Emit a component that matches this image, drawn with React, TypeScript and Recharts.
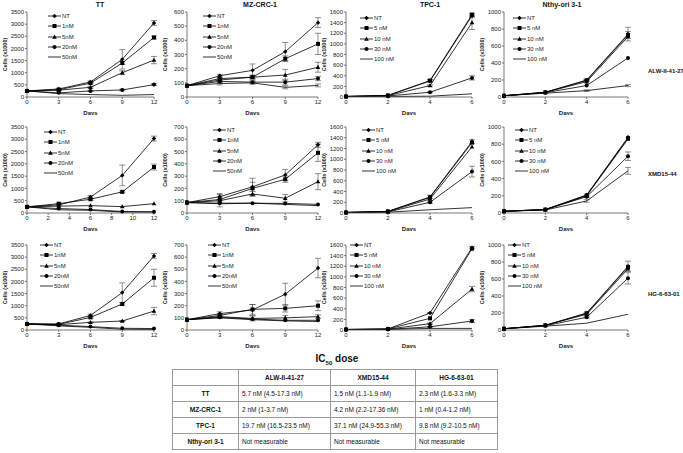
import React from 'react';
import { LineChart, Line, XAxis, YAxis, ErrorBar } from 'recharts';

// x values (days)
const DAYS_LONG = [0, 3, 6, 9, 12];
const DAYS_SHORT = [0, 2, 4, 6];

const DOSES_A = ['NT', '1nM', '5nM', '20nM', '50nM'];
const DOSES_B = ['NT', '5 nM', '10 nM', '30 nM', '100 nM'];

const CELL_LINES = ['TT', 'MZ-CRC-1', 'TPC-1', 'Nthy-ori 3-1'];
const INHIBITORS = ['ALW-II-41-27', 'XMD15-44', 'HG-6-63-01'];

// ALW-II-41-27
const ttAlw = [
  [250, 330, 620, 1550, 3050],
  [250, 300, 570, 1400, 2450],
  [250, 280, 400, 1000, 1520],
  [250, 170, 250, 290, 510],
  [250, 140, 100, 70, 100],
];
const ttAlwErr = [[0, 30, 40, 400, 100], [0, 20, 30, 60, 60], [0, 20, 30, 80, 150], [0, 0, 20, 30, 40], null];
const mzAlw = [
  [80, 150, 188, 320, 525],
  [80, 130, 140, 270, 375],
  [80, 120, 140, 155, 210],
  [80, 110, 105, 105, 130],
  [80, 95, 100, 68, 82],
];
const mzAlwErr = [[0, 10, 45, 65, 35], [0, 10, 10, 20, 75], [0, 10, 15, 40, 35], [0, 10, 10, 20, 15], [0, 10, 10, 10, 10]];
const tpcAlw = [
  [10, 30, 300, 1530],
  [10, 30, 310, 1550],
  [10, 25, 215, 1400],
  [10, 20, 90, 360],
  [10, 10, 15, 60],
];
const tpcAlwErr = [[0, 0, 20, 30], [0, 0, 20, 30], [0, 0, 15, 130], [0, 0, 10, 40], null];
const nthyAlw = [
  [15, 55, 200, 740],
  [15, 55, 195, 730],
  [15, 55, 180, 710],
  [15, 50, 135, 460],
  [15, 45, 75, 135],
];
const nthyAlwErr = [[0, 0, 10, 80], [0, 0, 10, 40], null, null, [0, 0, 10, 10]];

// XMD15-44
const ttXmd = [
  [250, 330, 650, 1530, 3030],
  [250, 380, 560, 860, 1870],
  [250, 280, 300, 260, 380],
  [250, 180, 140, 60, 50],
  [250, 130, 110, 40, 40],
];
const ttXmdErr = [[0, 40, 60, 420, 100], [0, 20, 40, 40, 120], null, null, null];
const mzXmd = [
  [85, 133, 213, 310, 555],
  [85, 110, 200, 275, 490],
  [85, 100, 155, 120, 255],
  [85, 80, 80, 78, 70],
  [85, 75, 80, 70, 60],
];
const mzXmdErr = [[0, 25, 70, 45, 20], [0, 20, 50, 25, 70], [0, 50, 20, 30, 65], null, null];
const tpcXmd = [
  [10, 30, 300, 1330],
  [10, 30, 290, 1310],
  [10, 25, 260, 1230],
  [10, 20, 200, 770],
  [10, 15, 60, 100],
];
const tpcXmdErr = [[0, 0, 30, 40], null, null, [0, 0, 20, 100], null];
const nthyXmd = [
  [20, 40, 210, 880],
  [20, 40, 205, 870],
  [20, 40, 200, 860],
  [20, 38, 190, 660],
  [20, 35, 140, 490],
];
const nthyXmdErr = [null, null, null, [0, 0, 10, 50], [0, 0, 15, 40]];

// HG-6-63-01
const ttHg = [
  [250, 250, 600, 1540, 3050],
  [250, 230, 520, 1070, 2150],
  [250, 220, 315, 370, 780],
  [250, 200, 140, 70, 60],
  [250, 170, 110, 30, 20],
];
const ttHgErr = [[0, 20, 50, 400, 100], [0, 20, 40, 50, 350], [0, 0, 20, 20, 150], null, null];
const mzHg = [
  [85, 135, 165, 295, 510],
  [85, 120, 170, 178, 200],
  [85, 110, 95, 100, 110],
  [85, 105, 90, 80, 80],
  [85, 100, 85, 75, 70],
];
const mzHgErr = [[0, 15, 45, 90, 80], [0, 10, 40, 30, 40], [0, 15, 20, 20, 15], null, null];
const tpcHg = [
  [10, 20, 320, 1550],
  [10, 20, 220, 1530],
  [10, 15, 120, 770],
  [10, 12, 60, 170],
  [10, 10, 30, 30],
];
const tpcHgErr = [[0, 0, 10, 20], null, [0, 0, 10, 50], [0, 0, 5, 30], null];
const nthyHg = [
  [15, 55, 200, 750],
  [15, 55, 195, 740],
  [15, 55, 185, 720],
  [15, 50, 150, 610],
  [15, 45, 80, 185],
];
const nthyHgErr = [[0, 0, 10, 60], null, null, [0, 0, 10, 70], null];

// IC50 table
const IC50_HEAD = ['', 'ALW-II-41-27', 'XMD15-44', 'HG-6-63-01'];
const IC50_ROWS = [
  ['TT', '5.7 nM (4.5-17.3 nM)', '1.5 nM (1.1-1.9 nM)', '2.3 nM (1.6-3.3 nM)'],
  ['MZ-CRC-1', '2 nM (1-3.7 nM)', '4.2 nM (2.2-17.36 nM)', '1 nM (0.4-1.2 nM)'],
  ['TPC-1', '19.7 nM (16.5-23.5 nM)', '37.1 nM (24.9-55.3 nM)', '9.8 nM (9.2-10.5 nM)'],
  ['Nthy-ori 3-1', 'Not measurable', 'Not measurable', 'Not measurable'],
];

// layout
const COL_LEFT = [27, 187, 346, 504];
const COL_RIGHT = [154, 318, 472, 628];
const ROW_TOP = [12, 127, 245];
const ROW_BOTTOM = [97, 213, 330];
const TITLE_X = [100, 260, 430, 562];
const ROW_LABEL_Y = [72, 175, 295];
const Y_W = 26;
const TOP_M = 10;
const X_H = 18;
const FONT = '"Liberation Sans", Arial, sans-serif';
const MARKERS = ['diamond', 'square', 'triangle', 'circle', 'none'];

const panels = [
  { row: 0, col: 0, values: ttAlw, errors: ttAlwErr, yMax: 3500, yStep: 500, xTicks: DAYS_LONG, leg: [21, 4] },
  { row: 0, col: 1, values: mzAlw, errors: mzAlwErr, yMax: 600, yStep: 100, xTicks: DAYS_LONG, leg: [16, 4] },
  { row: 0, col: 2, values: tpcAlw, errors: tpcAlwErr, yMax: 1600, yStep: 200, xTicks: DAYS_SHORT, leg: [14, 6] },
  { row: 0, col: 3, values: nthyAlw, errors: nthyAlwErr, yMax: 1000, yStep: 200, xTicks: DAYS_SHORT, leg: [9, 6] },
  { row: 1, col: 0, values: ttXmd, errors: ttXmdErr, yMax: 3500, yStep: 500, xTicks: [0, 2, 4, 6, 8, 10, 12], leg: [17, 5] },
  { row: 1, col: 1, values: mzXmd, errors: mzXmdErr, yMax: 700, yStep: 100, xTicks: DAYS_LONG, leg: [26, 3] },
  { row: 1, col: 2, values: tpcXmd, errors: tpcXmdErr, yMax: 1600, yStep: 200, xTicks: DAYS_SHORT, leg: [16, 3] },
  { row: 1, col: 3, values: nthyXmd, errors: nthyXmdErr, yMax: 1000, yStep: 200, xTicks: DAYS_SHORT, leg: [11, 3] },
  { row: 2, col: 0, values: ttHg, errors: ttHgErr, yMax: 3500, yStep: 500, xTicks: DAYS_LONG, leg: [13, 0] },
  { row: 2, col: 1, values: mzHg, errors: mzHgErr, yMax: 700, yStep: 100, xTicks: DAYS_LONG, leg: [21, 0] },
  { row: 2, col: 2, values: tpcHg, errors: tpcHgErr, yMax: 1600, yStep: 200, xTicks: DAYS_SHORT, leg: [4, 0] },
  { row: 2, col: 3, values: nthyHg, errors: nthyHgErr, yMax: 1000, yStep: 200, xTicks: DAYS_SHORT, leg: [4, 0] },
];

const Marker = ({ type, cx, cy }: { type: string; cx: number; cy: number }) => {
  if (type === 'diamond')
    return <polygon points={`${cx},${cy - 2.2} ${cx + 2.2},${cy} ${cx},${cy + 2.2} ${cx - 2.2},${cy}`} fill="#000" />;
  if (type === 'square') return <rect x={cx - 2} y={cy - 2} width={4} height={4} fill="#000" />;
  if (type === 'triangle')
    return <polygon points={`${cx},${cy - 2.4} ${cx + 2.3},${cy + 1.7} ${cx - 2.3},${cy + 1.7}`} fill="#000" />;
  if (type === 'circle') return <circle cx={cx} cy={cy} r={2} fill="#000" />;
  return <g />;
};

const Panel = ({ p }: { p: any }) => {
  const days = p.xTicks === DAYS_SHORT ? DAYS_SHORT : DAYS_LONG;
  const doses = p.col < 2 ? DOSES_A : DOSES_B;
  const rows = days.map((d, i) => {
    const r: any = { day: d };
    p.values.forEach((s: number[], k: number) => {
      r['s' + k] = s[i];
      if (p.errors[k]) r['e' + k] = p.errors[k][i];
    });
    return r;
  });
  const yTicks: number[] = [];
  for (let v = 0; v <= p.yMax; v += p.yStep) yTicks.push(v);
  const plotW = COL_RIGHT[p.col] - COL_LEFT[p.col];
  const plotH = ROW_BOTTOM[p.row] - ROW_TOP[p.row];
  const w = plotW + Y_W + 8;
  const h = plotH + TOP_M + X_H;
  const tick = { fontSize: 6, fill: '#222', fontFamily: FONT };

  return (
    <div style={{ position: 'absolute', left: COL_LEFT[p.col] - Y_W, top: ROW_TOP[p.row] - TOP_M, width: w, height: h }}>
      <LineChart width={w} height={h} data={rows} margin={{ top: TOP_M, right: 8, bottom: 0, left: 0 }}>
        <XAxis
          type="number"
          dataKey="day"
          domain={[0, days[days.length - 1]]}
          ticks={p.xTicks}
          tick={tick}
          tickSize={2}
          tickMargin={1}
          height={X_H}
          stroke="#555"
          strokeWidth={0.8}
          label={{ value: 'Days', position: 'insideBottom', offset: 0, style: { fontSize: 6, fontWeight: 'bold', fill: '#222', fontFamily: FONT } }}
        />
        <YAxis
          type="number"
          domain={[0, p.yMax]}
          ticks={yTicks}
          interval={0}
          tick={tick}
          tickSize={2}
          tickMargin={1}
          width={Y_W}
          stroke="#555"
          strokeWidth={0.8}
          label={{ value: 'Cells (x1000)', angle: -90, position: 'insideLeft', offset: 4, style: { textAnchor: 'middle', fontSize: 5.5, fontWeight: 'bold', fill: '#222', fontFamily: FONT } }}
        />
        {p.values.map((_: number[], k: number) => (
          <Line
            key={k}
            type="linear"
            dataKey={'s' + k}
            stroke="#000"
            strokeWidth={0.8}
            isAnimationActive={false}
            dot={(d: any) => <Marker key={`${k}-${d.index}`} type={MARKERS[k]} cx={d.cx} cy={d.cy} />}
            activeDot={false}
          >
            {p.errors[k] && <ErrorBar dataKey={'e' + k} width={3} stroke="#444" strokeWidth={0.6} direction="y" />}
          </Line>
        ))}
      </LineChart>
      <div style={{ position: 'absolute', left: Y_W + p.leg[0], top: TOP_M + p.leg[1] - 5, fontFamily: FONT, fontSize: 6, color: '#222' }}>
        {doses.map((name, k) => (
          <div key={name} style={{ display: 'flex', alignItems: 'center', height: 10.3 }}>
            <svg width={13} height={6} style={{ display: 'block' }}>
              <line x1={0} y1={3} x2={13} y2={3} stroke="#000" strokeWidth={0.8} />
              <Marker type={MARKERS[k]} cx={6.5} cy={3} />
            </svg>
            <span style={{ marginLeft: 1, whiteSpace: 'nowrap' }}>{name}</span>
          </div>
        ))}
      </div>
    </div>
  );
};

const cellStyle: React.CSSProperties = {
  border: '1px solid #9a9a9a',
  padding: '0 3px',
  height: 15,
  fontSize: 6.5,
  whiteSpace: 'nowrap',
};

export default function App() {
  const colW = [66, 92, 85, 82];
  return (
    <div style={{ position: 'absolute', left: 0, top: 0, width: 683, height: 453, background: '#fff', fontFamily: FONT, color: '#111', overflow: 'hidden' }}>
      {CELL_LINES.map((t, c) => (
        <div key={t} style={{ position: 'absolute', left: TITLE_X[c] - 50, top: 0, width: 100, textAlign: 'center', fontSize: 7, fontWeight: 'bold', lineHeight: '9px' }}>
          {t}
        </div>
      ))}
      {panels.map((p, i) => (
        <Panel key={i} p={p} />
      ))}
      {INHIBITORS.map((t, r) => (
        <div key={t} style={{ position: 'absolute', left: 648, top: ROW_LABEL_Y[r] - 4, fontSize: 6, fontWeight: 'bold', whiteSpace: 'nowrap' }}>
          {t}
        </div>
      ))}
      <div style={{ position: 'absolute', left: 287, top: 353, width: 100, textAlign: 'center', fontSize: 10, fontWeight: 'bold', lineHeight: '12px' }}>
        IC<sub style={{ fontSize: 6 }}>50</sub> dose
      </div>
      <table style={{ position: 'absolute', left: 172, top: 369, borderCollapse: 'collapse', border: '1.5px solid #8a8a8a', tableLayout: 'fixed', width: 325 }}>
        <colgroup>
          {colW.map((w, i) => (
            <col key={i} style={{ width: w }} />
          ))}
        </colgroup>
        <tbody>
          <tr>
            {IC50_HEAD.map((h, i) => (
              <td key={i} style={{ ...cellStyle, textAlign: 'center', fontWeight: 'bold' }}>{h}</td>
            ))}
          </tr>
          {IC50_ROWS.map((row) => (
            <tr key={row[0]}>
              {row.map((v, i) => (
                <td key={i} style={{ ...cellStyle, textAlign: i === 0 ? 'center' : 'left', fontWeight: i === 0 ? 'bold' : 'normal' }}>{v}</td>
              ))}
            </tr>
          ))}
        </tbody>
      </table>
    </div>
  );
}
